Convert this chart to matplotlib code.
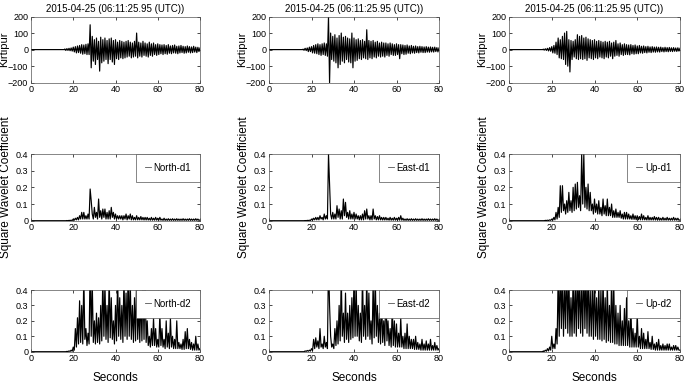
import numpy as np
import matplotlib
matplotlib.use("Agg")
import matplotlib.pyplot as plt

# ---------------- data ----------------
TITLE = "2015-04-25 (06:11:25.95 (UTC))"
STATION = "Kirtipur"
COEF_LABEL = "Square Wavelet Coefficient"
XLABEL = "Seconds"
X_TICKS = [0, 20, 40, 60, 80]
WAVE_TICKS = [-200, -100, 0, 100, 200]
COEF_TICKS = [0, 0.1, 0.2, 0.3, 0.4]
COEF_TICKLABELS = ["0", "0.1", "0.2", "0.3", "0.4"]
LEGENDS_D1 = ["North-d1", "East-d1", "Up-d1"]
LEGENDS_D2 = ["North-d2", "East-d2", "Up-d2"]

QUIET_START = 0.0      # trace is flat (zero) from here until ONSET
ONSET = 16.0           # first sample of the typed series
STEP = 0.5             # seconds between typed samples (16 ... 80)

north = [4,-5, 6,-5, 8,-7, 10,-9, 15,-14, 18,-20, 22,-18, 25,-22, 30,-28, 28,-25,
         32,-30, 35,-30, 150,-110, 80,-70, 60,-90, 70,-60, 50,-130, 75,-80, 60,-70, 70,-60,
         55,-85, 65,-60, 70,-75, 55,-90, 60,-55, 45,-60, 55,-50, 50,-55, 45,-50, 50,-45,
         55,-40, 45,-50, 40,-45, 50,-40, 100,-50, 45,-40, 40,-45, 50,-35, 40,-40, 35,-45,
         45,-35, 35,-40, 40,-30, 30,-35, 35,-30, 30,-25, 28,-30, 30,-25, 25,-28, 30,-22,
         22,-25, 25,-20, 28,-22, 20,-25, 22,-20, 25,-18, 20,-22, 18,-20, 22,-16, 18,-20,
         16,-18, 20,-15, 15,-18, 14,-12, 10]
east = [3,-4, 8,-6, 10,-12, 15,-12, 18,-20, 25,-22, 30,-25, 35,-30, 30,-35, 35,-30,
        40,-35, 35,-40, 200,-200, 100,-60, 80,-70, 90,-80, 70,-110, 85,-90, 100,-70, 75,-80,
        80,-60, 70,-75, 65,-80, 100,-110, 70,-70, 60,-65, 65,-55, 55,-60, 60,-50, 50,-55,
        120,-60, 55,-50, 50,-55, 55,-45, 45,-50, 50,-40, 40,-45, 45,-40, 40,-45, 40,-35,
        35,-40, 40,-30, 35,-35, 30,-35, 35,-30, 30,-55, 30,-25, 28,-30, 25,-28, 28,-22,
        22,-25, 25,-20, 20,-22, 22,-18, 18,-20, 20,-16, 18,-18, 16,-18, 18,-15, 15,-16,
        16,-14, 14,-15, 15,-12, 12,-14, 10]
up = [3,-3, 5,-5, 8,-8, 12,-10, 18,-20, 25,-22, 45,-30, 70,-50, 60,-55, 80,-60,
      100,-90, 110,-100, 60,-135, 55,-60, 50,-45, 60,-55, 90,-60, 80,-55, 85,-60, 70,-55,
      75,-65, 65,-50, 60,-55, 55,-60, 60,-50, 50,-55, 55,-45, 50,-50, 45,-55, 50,-45,
      45,-50, 50,-40, 40,-55, 45,-40, 55,-35, 35,-40, 40,-30, 30,-35, 35,-30, 30,-30,
      28,-32, 30,-25, 25,-28, 28,-25, 22,-25, 25,-20, 20,-22, 22,-18, 18,-20, 20,-16,
      16,-18, 18,-15, 15,-16, 16,-14, 14,-15, 15,-12, 12,-14, 14,-12, 12,-13, 13,-11,
      11,-12, 12,-10, 10,-11, 11,-9, 8]

north_d1 = [0,0, .001,0, .002,.001, .003,.001, .01,.003, .015,.005, .02,.005, .03,.01, .05,.01, .05,.01,
            .03,.01, .04,.01, .19,.12, .04,.01, .08,.02, .05,.01, .13,.02, .06,.01, .07,.02, .07,.01,
            .05,.01, .06,.01, .08,.02, .05,.01, .04,.01, .03,.01, .03,.01, .03,.005, .03,.01, .04,.005,
            .03,.01, .04,.005, .03,.005, .02,.005, .03,.005, .02,.005, .025,.005, .02,.004, .02,.004, .02,.004,
            .015,.003, .02,.003, .015,.003, .02,.003, .015,.003, .02,.003, .01,.002, .015,.002, .01,.002, .012,.002,
            .01,.002, .012,.002, .01,.002, .012,.002, .01,.002, .01,.002, .012,.002, .01,.002, .01,.002, .012,.002,
            .01,.002, .01,.002, .012,.002, .01,.002, .005]
east_d1 = [0,0, .001,0, .002,.001, .003,.001, .01,.003, .015,.005, .02,.005, .02,.005, .03,.01, .02,.005,
           .04,.01, .03,.01, .4,.22, .04,.01, .05,.01, .04,.01, .09,.02, .07,.01, .06,.01, .13,.03,
           .11,.02, .05,.01, .06,.01, .04,.01, .05,.01, .04,.01, .03,.005, .03,.005, .04,.005, .06,.01,
           .07,.01, .03,.005, .03,.005, .07,.01, .03,.005, .025,.005, .03,.005, .02,.004, .02,.004, .02,.004,
           .015,.003, .02,.003, .015,.003, .02,.003, .015,.003, .02,.003, .03,.003, .015,.002, .01,.002, .012,.002,
           .01,.002, .012,.002, .01,.002, .012,.002, .01,.002, .01,.002, .012,.002, .01,.002, .01,.002, .012,.002,
           .01,.002, .01,.002, .012,.002, .01,.002, .005]
up_d1 = [0,0, .002,.001, .003,.001, .005,.002, .01,.003, .02,.005, .05,.01, .08,.02, .21,.05, .21,.06,
         .1,.04, .12,.05, .17,.06, .12,.05, .2,.06, .22,.07, .23,.08, .15,.06, .4,.1, .4,.08,
         .2,.07, .22,.06, .17,.06, .1,.04, .13,.05, .1,.04, .12,.04, .08,.03, .13,.04, .09,.03,
         .13,.03, .08,.03, .1,.02, .06,.02, .07,.02, .05,.02, .06,.015, .04,.01, .05,.01, .05,.01,
         .04,.01, .03,.008, .04,.008, .03,.006, .03,.006, .025,.005, .04,.005, .03,.005, .02,.004, .03,.004,
         .02,.004, .02,.004, .025,.004, .02,.003, .02,.003, .015,.003, .02,.003, .015,.003, .02,.003, .015,.003,
         .015,.003, .02,.003, .015,.003, .015,.003, .005]

north_d2 = [0,0, .002,.001, .005,.002, .01,.003, .03,.01, .15,.03, .22,.05, .33,.06, .3,.05, .5,.08,
            .15,.04, .12,.05, .6,.1, .45,.06, .2,.05, .25,.06, .22,.05, .3,.07, .5,.1, .45,.08,
            .3,.06, .5,.09, .35,.08, .2,.05, .3,.07, .5,.1, .35,.08, .3,.06, .5,.1, .38,.08,
            .55,.1, .45,.08, .3,.06, .35,.07, .5,.08, .3,.06, .38,.07, .45,.08, .5,.06, .2,.04,
            .1,.03, .15,.04, .22,.04, .15,.03, .08,.03, .25,.04, .15,.03, .08,.02, .2,.03, .12,.02,
            .22,.03, .1,.02, .08,.02, .2,.02, .06,.02, .05,.015, .08,.015, .13,.02, .15,.02, .08,.015,
            .06,.01, .05,.01, .1,.01, .05,.01, .02]
east_d2 = [0,0, .005,.002, .008,.003, .01,.004, .02,.008, .08,.02, .09,.03, .07,.02, .15,.03, .05,.02,
           .1,.03, .06,.02, .6,.3, .1,.03, .05,.02, .15,.04, .2,.05, .3,.07, .5,.1, .25,.06,
           .38,.08, .25,.06, .3,.08, .35,.09, .5,.1, .45,.1, .3,.07, .25,.06, .5,.1, .3,.08,
           .5,.1, .38,.08, .2,.05, .45,.09, .5,.1, .3,.06, .25,.05, .35,.06, .2,.04, .45,.07,
           .2,.04, .15,.03, .3,.04, .2,.03, .18,.03, .12,.03, .22,.03, .1,.02, .12,.02, .18,.02,
           .1,.02, .08,.02, .08,.015, .1,.015, .06,.015, .05,.01, .08,.01, .05,.01, .07,.01, .05,.01,
           .08,.01, .04,.01, .06,.01, .04,.01, .02]
up_d2 = [.005,.002, .01,.003, .02,.005, .03,.01, .1,.02, .05,.02, .15,.05, .5,.1, .6,.15, .5,.1,
         .45,.15, .6,.12, .5,.1, .35,.1, .5,.12, .45,.1, .6,.15, .5,.12, .45,.1, .6,.15,
         .5,.12, .55,.1, .4,.1, .45,.08, .5,.1, .35,.08, .45,.08, .4,.07, .5,.08, .35,.06,
         .45,.07, .3,.06, .5,.06, .45,.05, .3,.05, .25,.04, .3,.04, .2,.04, .28,.04, .35,.04,
         .2,.03, .3,.03, .15,.03, .12,.03, .25,.03, .1,.02, .15,.02, .12,.02, .08,.02, .13,.02,
         .06,.015, .1,.015, .05,.01, .06,.01, .08,.01, .04,.01, .05,.01, .04,.01, .05,.01, .05,.01,
         .03,.01, .04,.01, .04,.01, .03,.01, .01]

WAVES = [north, east, up]
D1 = [north_d1, east_d1, up_d1]
D2 = [north_d2, east_d2, up_d2]

# ---------------- style ----------------
plt.rcParams["font.family"] = ["Liberation Sans", "DejaVu Sans"]
plt.rcParams["font.size"] = 7

W, H = 685, 385
fig = plt.figure(figsize=(W / 100, H / 100), dpi=100)

cols = [(31, 200), (269, 439), (509, 680)]
rows = [(16.5, 82.7), (154, 220.7), (290, 351.7)]
TICK_FS = 6.5
LINE_W = 0.85


def make_ax(c, r):
    x0, x1 = cols[c]
    y0, y1 = rows[r]
    return fig.add_axes([x0 / W, 1 - y1 / H, (x1 - x0) / W, (y1 - y0) / H])


def style(ax):
    ax.set_xlim(0, 80)
    ax.set_xticks(X_TICKS)
    ax.tick_params(direction="in", top=True, right=True, length=2.5, width=0.5,
                   labelsize=TICK_FS, pad=2, colors="black")
    for s in ax.spines.values():
        s.set_linewidth(0.5)
        s.set_color("#555555")


def series_xy(vals):
    n = len(vals)
    t = ONSET + STEP * np.arange(n)
    x = np.concatenate([[QUIET_START, ONSET], t])
    y = np.concatenate([[0.0, 0.0], np.asarray(vals, dtype=float)])
    return x, y


def add_legend(ax):
    leg = ax.legend(loc="upper right", fontsize=7, handlelength=0.6, handletextpad=0.3,
                    borderpad=0.9, borderaxespad=0.0, fancybox=False, framealpha=1,
                    edgecolor="#555555")
    leg.get_frame().set_linewidth(0.5)
    leg.legend_handles[0].set_color("#555555")
    leg.legend_handles[0].set_linewidth(0.6)


for c in range(3):
    # waveform row
    ax = make_ax(c, 0)
    x, y = series_xy(WAVES[c])
    ax.plot(x, y, color="black", lw=LINE_W)
    style(ax)
    ax.set_ylim(-200, 200)
    ax.set_yticks(WAVE_TICKS)
    ax.set_title(TITLE, fontsize=7, pad=3)
    fig.text((cols[c][0] - 27) / W, 1 - 49.5 / H, STATION, rotation=90,
             ha="center", va="center", fontsize=8)

    # d1 row
    ax = make_ax(c, 1)
    x, y = series_xy(D1[c])
    ax.plot(x, y, color="black", lw=LINE_W, label=LEGENDS_D1[c])
    style(ax)
    ax.set_ylim(0, 0.4)
    ax.set_yticks(COEF_TICKS)
    ax.set_yticklabels(COEF_TICKLABELS)
    add_legend(ax)
    fig.text((cols[c][0] - 25) / W, 1 - 187 / H, COEF_LABEL, rotation=90,
             ha="center", va="center", fontsize=8.5)

    # d2 row
    ax = make_ax(c, 2)
    x, y = series_xy(D2[c])
    ax.plot(x, y, color="black", lw=LINE_W, label=LEGENDS_D2[c])
    style(ax)
    ax.set_ylim(0, 0.4)
    ax.set_yticks(COEF_TICKS)
    ax.set_yticklabels(COEF_TICKLABELS)
    add_legend(ax)
    ax.set_xlabel(XLABEL, fontsize=8.5, labelpad=6)

fig.savefig("out.png", dpi=100)
